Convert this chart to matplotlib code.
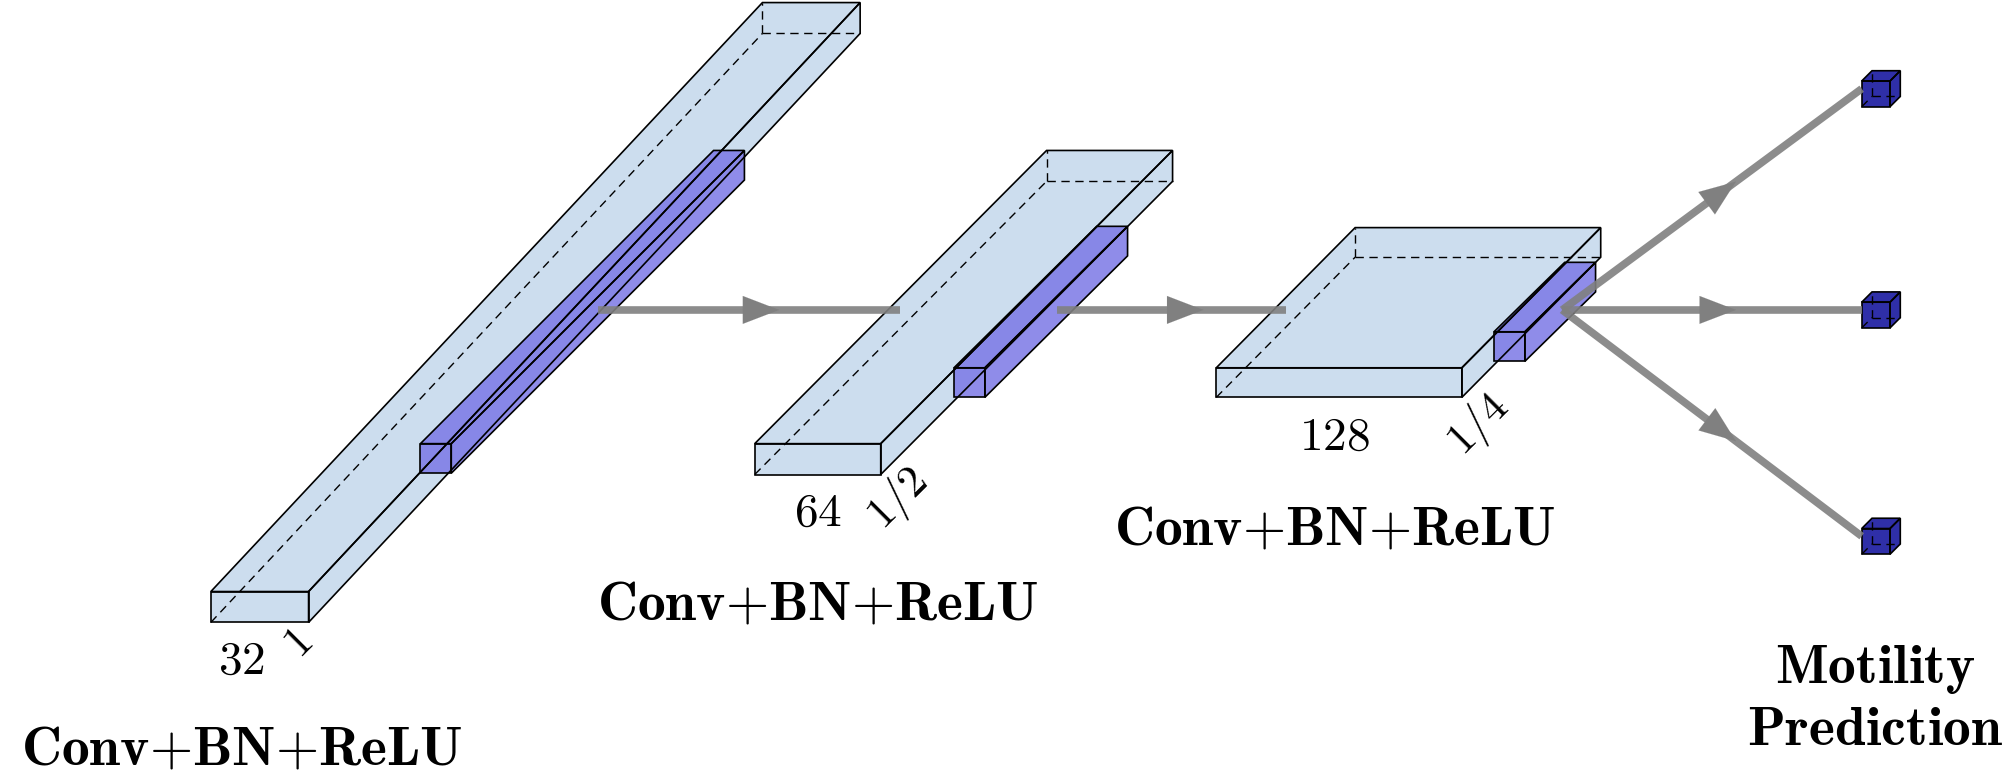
import matplotlib.pyplot as plt
from matplotlib.patches import Polygon
import numpy as np

plt.rcParams['mathtext.fontset'] = 'cm'

# layer blocks: front face (x, y, w, h) and depth offset, in picture units
block_front = [(164, 460, 76, 24), (587, 345, 98, 24), (946, 286, 191, 23)]
block_depth = [(429, -458), (227, -228), (108, -109)]
inner_front = [(327, 345, 24, 23), (742, 286, 24, 23), (1162, 258, 24, 23)]
inner_depth = [(228, -228), (111, -110), (55, -54)]
out_y = [69, 241, 417]

chan_labels = ['32', '64', '128']
chan_pos = [(188, 514), (636, 399), (1038, 340)]
scale_labels = ['1', '1/2', '1/4']
scale_pos = [(232, 500), (698, 388), (1150, 330)]
block_titles = [(188, 583), (636, 470), (1038, 412)]

LIGHT = '#c3d7ec'
DARK = '#7b78e6'
OUT = '#2f2fa8'
GRAY = '#808080'


def cuboid(ax, front, depth, color, alpha=1.0, dashed=True, lw=1.2):
    x, y, w, h = front
    dx, dy = depth
    fbl, fbr, ftr, ftl = (x, y + h), (x + w, y + h), (x + w, y), (x, y)
    bbl = (fbl[0] + dx, fbl[1] + dy)
    btl = (ftl[0] + dx, ftl[1] + dy)
    btr = (ftr[0] + dx, ftr[1] + dy)
    bbr = (fbr[0] + dx, fbr[1] + dy)
    for pts in [[ftl, ftr, btr, btl], [fbr, ftr, btr, bbr], [fbl, fbr, ftr, ftl]]:
        ax.add_patch(Polygon(pts, closed=True, facecolor=color, alpha=alpha,
                             edgecolor='none', zorder=3))
        ax.add_patch(Polygon(pts, closed=True, fill=False, edgecolor='k', lw=lw, zorder=4))
    if dashed:
        for a, b in [(fbl, bbl), (bbl, btl), (bbl, bbr)]:
            ax.plot([a[0], b[0]], [a[1], b[1]], color='k', lw=1.0, ls=(0, (6, 4)), zorder=4)


def arrow(ax, p0, p1, frac=0.55):
    ax.plot([p0[0], p1[0]], [p0[1], p1[1]], color=GRAY, lw=5.5, alpha=0.9, zorder=5,
            solid_capstyle='butt')
    p0, p1 = np.array(p0, float), np.array(p1, float)
    mid = p0 + (p1 - p0) * frac
    u = (p1 - p0) / np.linalg.norm(p1 - p0)
    ax.annotate('', xy=mid, xytext=mid - u * 60,
                arrowprops=dict(arrowstyle='-|>,head_length=2.6,head_width=1.0',
                                color=GRAY, lw=0.1, shrinkA=0, shrinkB=0), zorder=5)


fig = plt.figure(figsize=(20.16, 7.78), dpi=100)
ax = fig.add_axes([0, 0, 1, 1])
ax.set_xlim(0, 1568)
ax.set_ylim(605, 0)
ax.axis('off')

for f, d, fi, di in zip(block_front, block_depth, inner_front, inner_depth):
    cuboid(ax, f, d, LIGHT, alpha=0.85)
    cuboid(ax, fi, di, DARK, alpha=0.85, dashed=False)

for y in out_y:
    cuboid(ax, (1448, y - 6, 22, 20), (8, -8), OUT, dashed=True)

arrow(ax, (465, 241), (700, 241), 0.6)
arrow(ax, (822, 241), (1000, 241), 0.64)
start = (1215, 241)
for y in out_y:
    arrow(ax, start, (1448, y), 0.58)

for lab, (x, y) in zip(chan_labels, chan_pos):
    ax.text(x, y, '$' + lab + '$', fontsize=34, ha='center', va='center')
for lab, (x, y) in zip(scale_labels, scale_pos):
    ax.text(x, y, '$' + lab + '$', fontsize=32, ha='center', va='center', rotation=45)
for x, y in block_titles:
    ax.text(x, y, r'$\mathbf{Conv{+}BN{+}ReLU}$', fontsize=40, ha='center', va='center')
ax.text(1458, 520, r'$\mathbf{Motility}$', fontsize=40, ha='center', va='center')
ax.text(1458, 568, r'$\mathbf{Prediction}$', fontsize=40, ha='center', va='center')

fig.savefig('out.png', dpi=100)
